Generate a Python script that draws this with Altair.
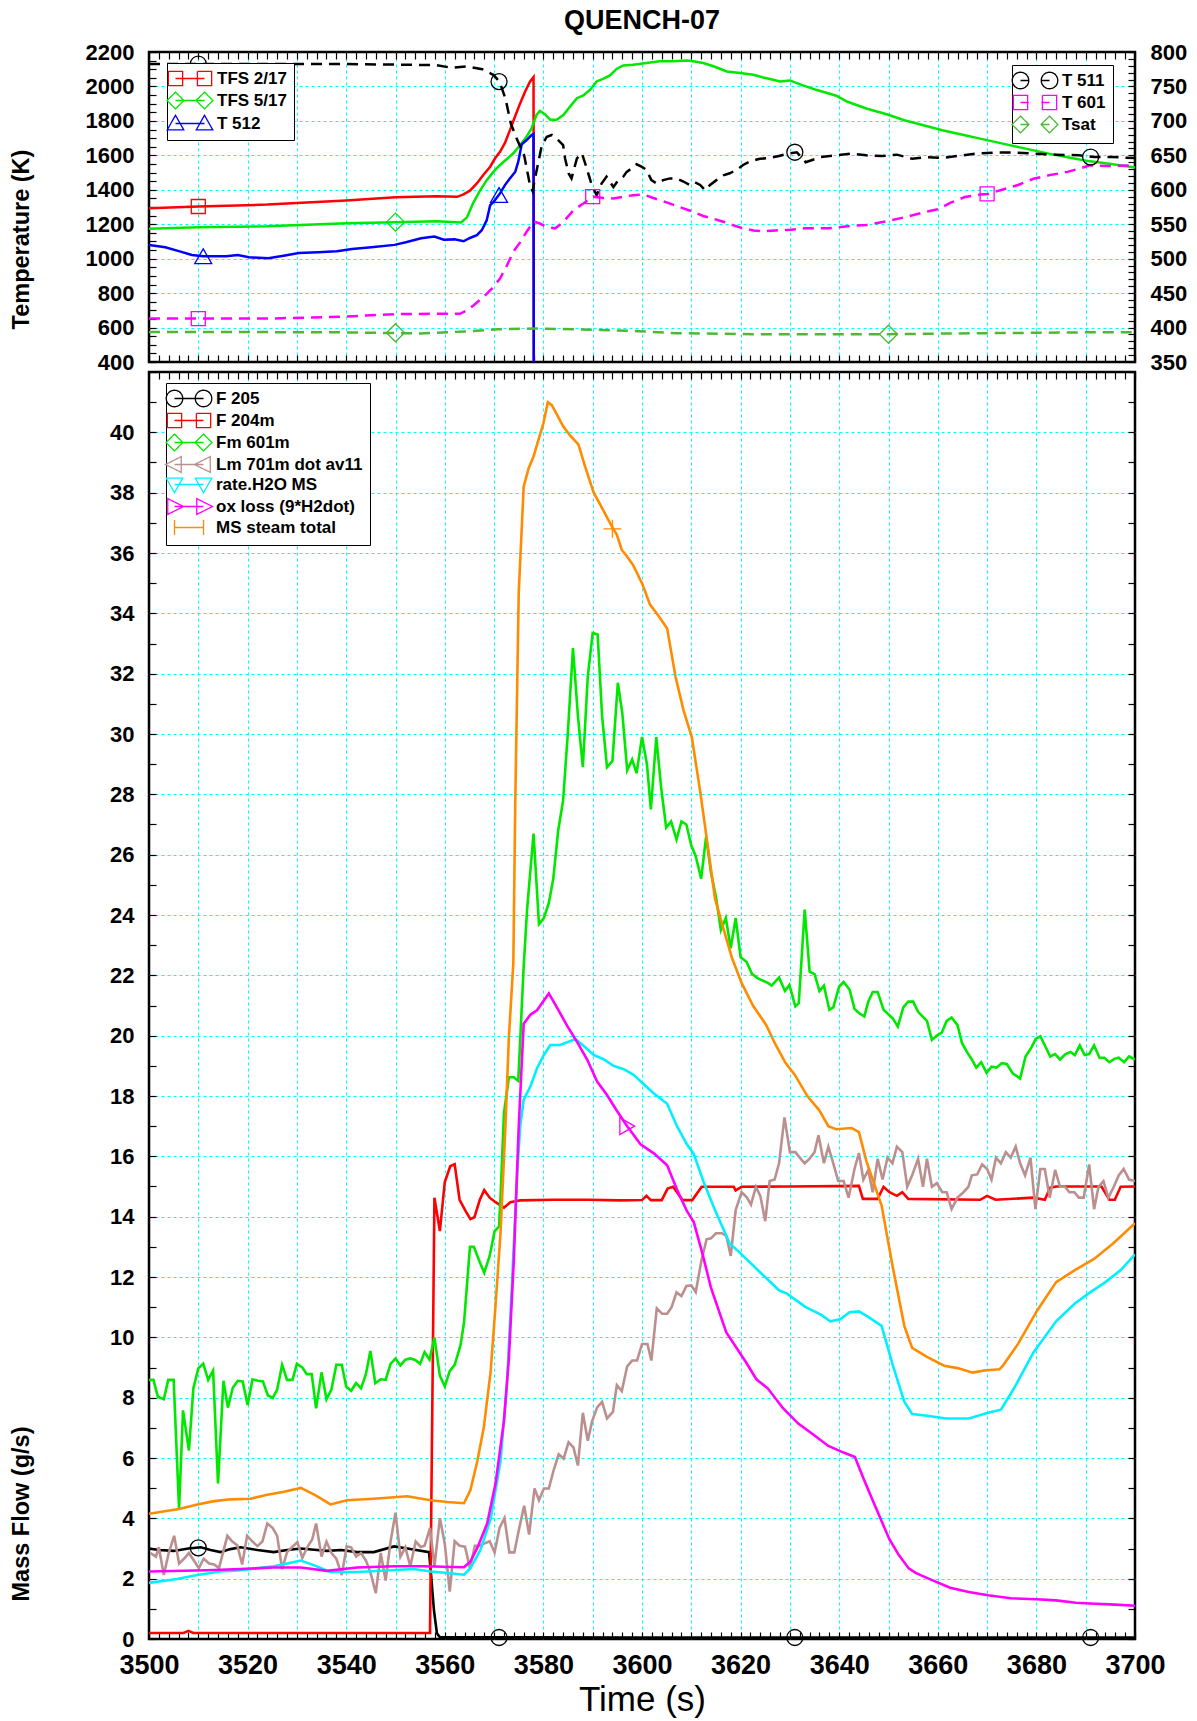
import altair as alt
import pandas as pd

FONT = "Liberation Sans, Arial, Helvetica, sans-serif"
GRID = "#00ffff"
TL = 7  # inward tick length

# ---------------- top panel (temperatures) ----------------
TL_NAMES = ["TFS 2/17", "TFS 5/17", "T 512"]
TL_COLORS = ["#ff0000", "#00e800", "#0000ff"]
TR_NAMES = ["T 511", "T 601", "Tsat"]
TR_COLORS = ["#000000", "#ff00ff", "#4db833"]

tfs217 = [(3500, 1293), (3510, 1303), (3524, 1314), (3540, 1338), (3550, 1357), (3558.3, 1363),
          (3562.5, 1359), (3563.8, 1373), (3565.1, 1395), (3566.5, 1437), (3567.8, 1486),
          (3569.2, 1534), (3570.2, 1583), (3571.2, 1620), (3572.2, 1672), (3573.2, 1745),
          (3574.3, 1830), (3575.3, 1903), (3576.3, 1971), (3577.3, 2029), (3578.0, 2054),
          (3578.05, 400)]
tfs517 = [(3500, 1173), (3510, 1182), (3524, 1188), (3540, 1206), (3550, 1212), (3558.3, 1217),
          (3563.3, 1210), (3564.5, 1240), (3565.8, 1326), (3567.2, 1398), (3568.5, 1456),
          (3569.9, 1505), (3571.2, 1544), (3572.6, 1579), (3573.9, 1612), (3575.3, 1660),
          (3576.6, 1709), (3577.6, 1757), (3578.6, 1835), (3579.3, 1858), (3580.3, 1839),
          (3581.4, 1806), (3582.7, 1806), (3584.1, 1835), (3585.4, 1883), (3586.8, 1932),
          (3588.1, 1948), (3589.5, 1981), (3590.8, 2029), (3592.2, 2045), (3593.5, 2064),
          (3594.9, 2103), (3596.2, 2122), (3598.2, 2126), (3600.9, 2136), (3603.6, 2146),
          (3606.4, 2146), (3609.1, 2150), (3610.4, 2146), (3612.4, 2136), (3614.5, 2117),
          (3617.2, 2087), (3619.9, 2078), (3622.6, 2068), (3624.6, 2052), (3626.6, 2039),
          (3628, 2029), (3630, 2035), (3632.5, 2008), (3635.5, 1979), (3639.4, 1946),
          (3641.7, 1911), (3645.5, 1872), (3649.8, 1837), (3653.2, 1804), (3657.1, 1775),
          (3660.9, 1746), (3665.5, 1717), (3668.6, 1697), (3673.2, 1668), (3677.8, 1639),
          (3682.5, 1610), (3687.1, 1584), (3690.9, 1565), (3694.8, 1551), (3700, 1530)]
t512 = [(3500, 1080), (3503.3, 1066), (3506.4, 1041), (3508.7, 1021), (3511, 1014), (3513.3, 1014),
        (3515.7, 1014), (3518, 1021), (3520.3, 1008), (3524.2, 1002), (3527.3, 1017), (3530.4, 1033),
        (3534.3, 1037), (3538.1, 1043), (3541.2, 1056), (3545.1, 1066), (3549.8, 1080),
        (3552.1, 1095), (3555.2, 1118), (3557.9, 1128), (3559.8, 1110), (3562, 1112),
        (3563.8, 1101), (3565.1, 1120), (3566.5, 1136), (3567.5, 1165), (3568.5, 1223),
        (3569.2, 1311), (3569.9, 1330), (3571.2, 1379), (3572.2, 1427), (3573.2, 1466),
        (3574.3, 1505), (3574.9, 1563), (3575.6, 1664), (3576.6, 1689), (3577.6, 1718),
        (3578.0, 1724), (3578.05, 400)]

# right-axis series (K on the right scale)
t511 = [(3500, 782.5), (3520, 782.5), (3540, 782.5), (3558.3, 781), (3561.4, 777), (3564.5, 779),
        (3567.6, 775), (3569.9, 766.5), (3571.1, 757), (3572.3, 732.5), (3573.4, 696),
        (3574.6, 674), (3576.1, 650), (3577.3, 606), (3577.8, 598), (3578.3, 616.5), (3579.0, 641),
        (3579.7, 665), (3580.7, 677), (3581.7, 679.5), (3583.0, 672), (3584.0, 665),
        (3584.4, 645.5), (3585.1, 624), (3585.7, 616.5), (3586.8, 645.5), (3587.8, 653),
        (3588.8, 631), (3589.8, 607), (3590.8, 592), (3591.8, 609), (3592.8, 619), (3594.2, 604),
        (3595.2, 614), (3596.2, 619), (3596.9, 626), (3597.9, 631), (3598.9, 637),
        (3599.9, 633.5), (3600.9, 629), (3601.9, 614), (3603.0, 609), (3604.3, 614),
        (3605.7, 616.5), (3607.0, 616.5), (3608.4, 612), (3609.7, 607), (3610.7, 611),
        (3611.8, 607), (3612.8, 599.5), (3613.8, 607), (3615.1, 614), (3616.5, 621),
        (3617.8, 624), (3619.2, 629), (3620.5, 636), (3621.9, 641), (3623.9, 645),
        (3625.9, 646), (3628.0, 649.5), (3630.0, 653), (3631.4, 654.5), (3633.2, 640),
        (3636.3, 647.5), (3639.4, 650), (3642.5, 652.5), (3645.5, 650), (3648.6, 649),
        (3651.7, 651), (3654.8, 645), (3657.8, 647.5), (3660.9, 646), (3664.0, 649),
        (3667.8, 652.5), (3671.7, 654), (3675.5, 654), (3679.4, 652.5), (3684.0, 651),
        (3688.6, 650), (3691.7, 647.5), (3695.5, 647.5), (3700, 646)]
t601 = [(3500, 413), (3510, 413), (3524, 413), (3540, 416), (3550, 419.5), (3558.3, 420),
        (3563.1, 420), (3564.5, 425), (3565.8, 432), (3567.8, 444), (3569.5, 456), (3571.2, 471),
        (3572.6, 490), (3573.9, 510), (3575.3, 524), (3576.6, 539), (3578, 554), (3579.3, 551),
        (3580.7, 546), (3582.4, 544), (3584.1, 553.5), (3586.1, 570.5), (3588.1, 580),
        (3590.1, 590), (3592.2, 588), (3594.2, 587.5), (3596.2, 590), (3598.2, 592),
        (3600.3, 593), (3602.3, 588), (3604.3, 583.5), (3606.4, 578), (3608.4, 573),
        (3610.4, 568), (3612.4, 562), (3614.5, 558), (3616.5, 553.5), (3618.5, 548.5),
        (3620.5, 544), (3622.6, 541), (3624.6, 540), (3627.1, 541), (3630.2, 542),
        (3633.2, 544), (3637.8, 544), (3641.7, 547), (3645.5, 549), (3649.4, 554),
        (3653.2, 560), (3657.8, 568.5), (3660.2, 572), (3662.5, 581), (3665.5, 589.5),
        (3668.6, 593), (3670.2, 594), (3673.2, 600.5), (3676.3, 607), (3679.4, 616),
        (3682.5, 621), (3686.3, 626), (3688.6, 630.5), (3690.9, 635.5), (3694.8, 634.5),
        (3700, 635.5)]
tsat = [(3500, 393.7), (3520, 393.5), (3540, 393), (3555, 391.5), (3564.5, 394.5), (3570.7, 397.5),
        (3578.4, 398.6), (3591.7, 396.6), (3599.4, 394.7), (3607.1, 391.8), (3622.5, 390.3),
        (3637.8, 390.3), (3649.8, 390.3), (3660.9, 391.3), (3676.3, 392.2), (3691.7, 393.2),
        (3700, 393.2)]

# markers on the curves (t, value)
mk_tfs217 = [(3510, 1303)]
mk_tfs517 = [(3550, 1212)]
mk_t512 = [(3511, 1014), (3571, 1370)]
mk_t511 = [(3510, 782.5), (3571, 757), (3631, 654.5), (3691, 647.5)]
mk_t601 = [(3510, 413), (3590, 590), (3670, 594)]
mk_tsat = [(3550, 392.5), (3650, 390.3)]

# ---------------- bottom panel (mass flows) ----------------
B_NAMES = ["F 205", "F 204m", "Fm 601m", "Lm 701m dot av11", "rate.H2O MS",
           "ox loss (9*H2dot)", "MS steam total"]
B_COLORS = ["#000000", "#ff0000", "#00e800", "#bc8f8f", "#00f0ff", "#ff00ff", "#ff8c00"]

f205 = [(3500, 3.0), (3502, 2.95), (3505, 2.92), (3508, 3.0), (3510.5, 3.04), (3512.5, 2.95),
        (3514.5, 2.88), (3516.5, 2.98), (3518.6, 3.04), (3522, 2.95), (3525.3, 2.88), (3528, 2.95),
        (3530.8, 3.0), (3533.5, 2.96), (3536.1, 2.92), (3539, 2.95), (3542.2, 2.88), (3545.6, 2.88),
        (3549.7, 3.07), (3552.4, 3.0), (3556.8, 2.88), (3557.1, 2.35), (3557.8, 0.95),
        (3558.4, 0.19), (3559, 0.06), (3600, 0.05), (3650, 0.05), (3700, 0.05)]
f204m = [(3500, 0.2), (3507, 0.2), (3508, 0.27), (3509, 0.2), (3557.0, 0.2), (3557.9, 14.63),
         (3559, 13.52), (3560, 15.15), (3561.1, 15.67), (3562, 15.74), (3563, 14.56),
         (3564.2, 14.19), (3565.2, 13.92), (3566, 13.98), (3567.1, 14.56), (3568, 14.88),
         (3569.1, 14.63), (3570.3, 14.48), (3572, 14.3), (3573.3, 14.48), (3575.3, 14.54),
         (3582, 14.56), (3589, 14.56), (3595.6, 14.54), (3600, 14.55), (3600.9, 14.69),
         (3601.8, 14.55), (3604, 14.55), (3605.2, 14.93), (3606.3, 14.99), (3607.1, 14.81),
         (3608.2, 14.55), (3610.2, 14.55), (3612.1, 14.99), (3618.6, 14.99), (3619, 14.87),
         (3620.2, 14.99), (3630, 15.0), (3644, 15.02), (3644.8, 14.59), (3647.8, 14.59),
         (3649, 14.99), (3650.2, 14.81), (3651.7, 14.69), (3652.8, 14.81), (3654, 14.59),
         (3668.6, 14.56), (3670, 14.69), (3671.7, 14.56), (3679.4, 14.63), (3681.7, 14.56),
         (3682.8, 14.96), (3684, 15.0), (3693.2, 15.0), (3694.8, 14.56), (3695.9, 14.56),
         (3697.1, 14.99), (3700, 15.0)]
fm601m = [(3500, 8.59), (3500.9, 8.59), (3501.8, 8.03), (3503, 7.95), (3503.9, 8.59), (3505, 8.59),
          (3506.1, 4.31), (3506.9, 7.58), (3508.1, 6.25), (3509, 8.31), (3510, 8.97), (3511, 9.13),
          (3512, 8.59), (3513, 8.9), (3514, 5.16), (3515.1, 8.56), (3516, 7.67), (3517, 8.33),
          (3518, 8.56), (3519, 8.54), (3520, 7.76), (3521, 8.61), (3522.1, 8.56), (3523.1, 8.54),
          (3524.1, 8.08), (3525.1, 7.99), (3526, 8.27), (3527, 9.09), (3528, 8.59), (3529.1, 8.59),
          (3530, 9.12), (3531.1, 9.0), (3532, 8.78), (3533, 8.78), (3533.9, 7.65), (3535, 8.84),
          (3536, 7.95), (3537, 8.27), (3538, 9.09), (3539.1, 9.09), (3540, 8.37), (3541, 8.23),
          (3542, 8.48), (3543, 8.31), (3544, 8.78), (3544.9, 9.55), (3545.9, 8.48), (3547, 8.61),
          (3548, 8.59), (3549, 9.12), (3550, 9.3), (3551, 9.07), (3552, 9.26), (3553, 9.3),
          (3554, 9.25), (3555, 9.12), (3555.9, 9.51), (3556.9, 9.26), (3557.9, 10.0), (3559, 8.73),
          (3560, 8.37), (3561, 8.88), (3562, 9.09), (3563.2, 9.75), (3563.9, 10.49), (3565.1, 13.0),
          (3565.9, 13.0), (3567.1, 12.49), (3568, 12.14), (3569.1, 12.7), (3570.1, 13.52),
          (3571, 13.67), (3571.3, 14.63), (3572, 17.44), (3573, 18.62), (3574, 18.62),
          (3574.9, 18.5), (3576, 22.3), (3576.7, 24.2), (3578, 26.7), (3579.1, 23.7), (3580.1, 23.9),
          (3581.1, 24.4), (3582, 25.2), (3583, 26.8), (3584, 27.8), (3584.9, 29.9), (3586, 32.85),
          (3587, 30.6), (3588, 28.9), (3589, 31.9), (3590, 33.35), (3591, 33.3), (3591.9, 30.6),
          (3592.9, 28.9), (3594, 29.1), (3595.1, 31.7), (3596, 30.7), (3597, 28.8), (3598, 29.15),
          (3598.9, 28.7), (3600, 29.9), (3601, 29.0), (3601.8, 27.5), (3602.9, 29.9), (3603.9, 28.2),
          (3604.9, 26.9), (3605.9, 27.1), (3607, 26.5), (3608, 27.1), (3609, 27.0), (3610, 26.3),
          (3610.9, 25.95), (3612, 25.2), (3613, 26.6), (3614, 25.4), (3615, 24.6), (3616, 23.5),
          (3617, 23.9), (3618, 22.9), (3619, 23.9), (3620, 22.6), (3621.2, 22.45), (3622.3, 22.05),
          (3623.5, 21.9), (3625.5, 21.75), (3626.3, 21.66), (3627.8, 21.93), (3629, 21.48),
          (3629.9, 21.68), (3631.1, 20.97), (3631.8, 21.08), (3633, 24.18), (3634, 22.12),
          (3635, 22.04), (3636, 21.48), (3636.9, 21.66), (3638, 20.86), (3638.8, 20.94),
          (3640, 21.63), (3640.9, 21.78), (3642.1, 21.53), (3643.1, 20.89), (3644, 20.75),
          (3645.1, 20.64), (3645.9, 21.13), (3646.8, 21.45), (3647.8, 21.45), (3649, 20.86),
          (3650.9, 20.57), (3651.9, 20.3), (3653, 20.94), (3654, 21.13), (3655, 21.13),
          (3656, 20.79), (3657.8, 20.49), (3658.8, 19.86), (3659.8, 20.0), (3660.8, 20.1),
          (3661.8, 20.49), (3662.8, 20.6), (3664, 20.35), (3664.9, 19.76), (3665.9, 19.46),
          (3666.9, 19.21), (3667.8, 18.94), (3668.8, 19.12), (3669.9, 18.77), (3670.9, 18.97),
          (3671.9, 18.94), (3673, 19.09), (3674, 19.06), (3675.2, 18.75), (3676.7, 18.58),
          (3677.8, 19.31), (3679, 19.61), (3679.9, 19.9), (3680.8, 19.98), (3681.8, 19.65),
          (3682.8, 19.31), (3683.8, 19.39), (3684.8, 19.21), (3685.9, 19.39), (3686.9, 19.46),
          (3687.8, 19.36), (3688.8, 19.68), (3689.8, 19.36), (3690.7, 19.39), (3691.7, 19.68),
          (3692.8, 19.27), (3693.8, 19.27), (3694.8, 19.12), (3695.9, 19.24), (3696.7, 19.27),
          (3697.8, 19.12), (3698.8, 19.31), (3700, 19.21)]
lm701m = [(3500.3, 2.85), (3501.4, 2.73), (3502, 3.04), (3503, 2.12), (3504, 2.85), (3505.1, 3.42),
          (3506.1, 2.5), (3507.1, 2.66), (3508.1, 2.85), (3509.1, 2.6), (3510.1, 2.35),
          (3511.1, 2.66), (3512.2, 2.5), (3513.2, 2.47), (3514.2, 2.35), (3515.9, 3.42),
          (3516.9, 3.23), (3517.9, 3.11), (3518.9, 2.47), (3519.9, 3.42), (3521, 3.23),
          (3522, 3.08), (3523, 3.23), (3524, 3.83), (3525.1, 3.68), (3526, 3.42), (3527, 2.32),
          (3528, 2.88), (3529, 3.04), (3530.1, 3.21), (3531.1, 2.69), (3532.1, 3.04), (3533.1, 3.3),
          (3533.9, 3.83), (3535, 2.73), (3536, 3.23), (3537, 2.85), (3538, 2.66), (3539.1, 2.12),
          (3540.1, 3.07), (3541, 3.04), (3542, 2.73), (3543, 2.85), (3544, 2.6), (3544.9, 2.22),
          (3546, 1.52), (3547, 2.85), (3548, 1.94), (3549, 3.23), (3550, 4.19), (3551, 2.73),
          (3552, 3.04), (3553, 2.41), (3554.1, 3.23), (3555.1, 3.05), (3555.9, 3.09), (3557, 3.68),
          (3557.9, 2.4), (3559, 4.01), (3560, 3.15), (3561, 1.57), (3562, 3.24), (3563, 3.09),
          (3564.1, 3.06), (3565.1, 2.35), (3566.1, 3.09), (3567.1, 3.09), (3568.1, 3.17),
          (3569.1, 3.24), (3570.1, 2.87), (3571.1, 3.68), (3572.1, 4.01), (3573.1, 2.87),
          (3574.1, 2.87), (3575.1, 3.68), (3576.1, 4.42), (3577.1, 3.46), (3578.2, 4.99),
          (3579.1, 4.6), (3580.1, 4.99), (3581.1, 4.99), (3582.1, 5.61), (3583.1, 6.12),
          (3584.1, 5.98), (3585.1, 6.52), (3586.1, 6.35), (3587, 5.75), (3588, 7.5), (3589, 6.57),
          (3589.9, 7.23), (3590.9, 7.68), (3591.9, 7.86), (3592.9, 7.31), (3594.1, 7.53),
          (3594.9, 8.42), (3595.9, 8.22), (3597, 9.04), (3598, 9.23), (3599, 9.23), (3600, 9.78),
          (3601.1, 9.78), (3601.9, 9.23), (3603, 10.96), (3604.1, 10.78), (3605.1, 10.78),
          (3606, 11.0), (3607, 11.49), (3608, 11.37), (3609, 11.7), (3610, 11.72), (3610.9, 11.5),
          (3612.1, 12.58), (3613.1, 13.25), (3614, 13.28), (3615, 13.45), (3616.2, 13.45),
          (3617.1, 13.36), (3618, 12.7), (3619, 14.22), (3620.2, 14.81), (3621.3, 14.63),
          (3622.1, 14.4), (3623.1, 14.99), (3624, 14.69), (3625, 13.85), (3625.9, 15.18),
          (3626.9, 15.23), (3627.8, 15.77), (3628.9, 17.29), (3630, 16.14), (3631.1, 16.14),
          (3632, 15.96), (3633, 15.77), (3634, 15.92), (3635, 16.14), (3635.8, 16.7),
          (3636.9, 15.77), (3637.8, 16.32), (3638.8, 15.77), (3639.8, 15.18), (3640.9, 15.18),
          (3641.9, 14.63), (3643.1, 15.58), (3644, 16.11), (3644.9, 15.23), (3645.9, 15.55),
          (3646.8, 14.81), (3647.8, 15.92), (3648.8, 15.23), (3649.8, 15.96), (3650.8, 15.77),
          (3651.7, 16.32), (3652.8, 16.14), (3653.8, 14.99), (3654.8, 15.37), (3656, 15.92),
          (3657, 14.99), (3657.8, 15.92), (3658.8, 14.99), (3659.8, 15.11), (3660.9, 14.81),
          (3661.8, 14.81), (3662.8, 14.25), (3664, 14.63), (3665.2, 14.81), (3666.2, 14.99),
          (3666.9, 15.37), (3668, 15.4), (3669, 15.73), (3670, 15.58), (3670.9, 15.23),
          (3671.8, 15.96), (3672.8, 15.77), (3673.8, 16.14), (3674.8, 15.96), (3675.8, 16.32),
          (3676.7, 15.77), (3677.7, 15.37), (3678.8, 15.96), (3679.8, 14.25), (3680.8, 15.58),
          (3681.7, 15.58), (3682.7, 14.63), (3683.8, 15.55), (3684.8, 14.99), (3685.8, 14.99),
          (3686.7, 14.81), (3687.7, 14.81), (3688.6, 14.63), (3689.6, 14.63), (3690.7, 15.73),
          (3691.7, 14.25), (3692.6, 14.99), (3693.6, 15.18), (3694.6, 14.63), (3695.7, 14.99),
          (3696.7, 15.37), (3697.7, 15.58), (3698.8, 15.23), (3700, 15.18)]
rate_h2o = [(3500, 1.86), (3505.7, 1.99), (3509.8, 2.12), (3514.5, 2.24), (3518.6, 2.28),
            (3525.3, 2.41), (3528, 2.5), (3530.8, 2.6), (3533.4, 2.45), (3536.8, 2.22),
            (3542.2, 2.22), (3549, 2.28), (3553.7, 2.32), (3557.1, 2.24), (3561.1, 2.18),
            (3563.9, 2.13), (3565.2, 2.35), (3567.2, 2.94), (3569.3, 3.98), (3571.3, 5.9),
            (3572.6, 8.42), (3573.6, 11.67), (3574.7, 15.5), (3575.3, 17.0), (3576, 17.88),
            (3577.4, 18.33), (3578.7, 18.92), (3580.1, 19.36), (3581.4, 19.69), (3583.4, 19.69),
            (3584.8, 19.78), (3586.5, 19.88), (3588.2, 19.66), (3590.2, 19.36), (3592.2, 19.22),
            (3594.2, 19.0), (3596.3, 18.89), (3598.3, 18.7), (3600.3, 18.4), (3602.3, 18.1),
            (3605.1, 17.74), (3607.1, 17.0), (3609.1, 16.4), (3610.5, 16.08), (3612.5, 15.15),
            (3614.8, 14.22), (3617.8, 13.11), (3620.2, 12.75), (3624, 12.15), (3627.8, 11.56),
            (3629.4, 11.45), (3633.2, 11.0), (3636.3, 10.75), (3638.2, 10.53), (3640.2, 10.6),
            (3642.1, 10.83), (3644, 10.86), (3645.9, 10.68), (3648.6, 10.38), (3650.9, 9.06),
            (3653.2, 7.87), (3654.8, 7.46), (3657.8, 7.4), (3661.7, 7.31), (3666.3, 7.31),
            (3670.2, 7.5), (3672.8, 7.6), (3675.5, 8.32), (3679.4, 9.5), (3684, 10.53),
            (3687.8, 11.12), (3690.9, 11.49), (3694, 11.83), (3697.1, 12.23), (3700, 12.75)]
ox_loss = [(3500, 2.24), (3511.8, 2.28), (3518.6, 2.32), (3525.3, 2.37), (3530.8, 2.37),
           (3536.1, 2.26), (3542.2, 2.37), (3549.7, 2.41), (3555.7, 2.41), (3563.9, 2.38),
           (3565.2, 2.57), (3566.6, 3.02), (3568.6, 3.83), (3570.3, 5.16), (3572, 7.23),
           (3573, 9.3), (3574, 12.56), (3575, 17.0), (3576, 20.4), (3577.4, 20.7), (3578.7, 20.84),
           (3581.1, 21.4), (3582.8, 20.92), (3584.8, 20.33), (3586.8, 19.8), (3588.9, 19.2),
           (3590.9, 18.48), (3592.9, 18.03), (3594.9, 17.51), (3597, 17.0), (3599.7, 16.4),
           (3602.4, 16.1), (3605.1, 15.7), (3607.1, 14.9), (3609.1, 14.19), (3610.5, 13.82),
           (3612.3, 12.75), (3614, 11.64), (3617.1, 10.16), (3621, 9.2), (3623.2, 8.61),
           (3625.5, 8.31), (3628.6, 7.65), (3631.7, 7.14), (3634.8, 6.77), (3637.8, 6.4),
           (3640.9, 6.18), (3643.2, 6.03), (3644.8, 5.37), (3646.7, 4.63), (3650.2, 3.3),
           (3652.1, 2.78), (3654.1, 2.34), (3655.5, 2.19), (3658.6, 1.97), (3662.5, 1.7),
           (3666.3, 1.56), (3670.2, 1.45), (3674.8, 1.35), (3680, 1.32), (3684, 1.28),
           (3688, 1.2), (3692, 1.17), (3696, 1.14), (3700, 1.1)]
ms_steam = [(3500, 4.15), (3506.1, 4.31), (3509.8, 4.46), (3513.2, 4.57), (3516.6, 4.63),
            (3520.6, 4.65), (3524, 4.78), (3527.4, 4.88), (3530.8, 5.01), (3533.8, 4.76),
            (3536.8, 4.46), (3540.2, 4.6), (3545.6, 4.65), (3552.4, 4.73), (3557.1, 4.6),
            (3560.5, 4.54), (3563.9, 4.5), (3565.2, 4.94), (3566.6, 5.9), (3567.9, 7.0),
            (3569.3, 8.86), (3570.3, 11.08), (3571.3, 13.45), (3572.3, 17.0), (3573, 19.96),
            (3573.9, 22.4), (3574.3, 27.8), (3575, 34.7), (3576, 38.2), (3577, 38.8), (3578, 39.2),
            (3579, 39.75), (3580, 40.3), (3580.9, 41.0), (3581.7, 40.9), (3582.7, 40.6),
            (3584, 40.2), (3585.4, 39.9), (3587.1, 39.6), (3588.4, 38.9), (3590.2, 38.0),
            (3591.2, 37.7), (3593.5, 37.0), (3594.9, 36.6), (3595.9, 36.1), (3596.9, 35.9),
            (3598.2, 35.6), (3600, 35.0), (3601.6, 34.3), (3603.4, 33.9), (3605.1, 33.5),
            (3606.8, 31.9), (3608.4, 30.8), (3610.1, 29.9), (3611.8, 28.1), (3613.5, 26.1),
            (3614.8, 24.55), (3616.3, 23.67), (3618.2, 22.6), (3620.2, 21.75), (3622.5, 21.0),
            (3625.2, 20.35), (3627.1, 19.7), (3629.1, 19.1), (3631, 18.7), (3633.6, 17.98),
            (3635.9, 17.54), (3637.8, 17.0), (3639.4, 16.9), (3642.5, 16.94), (3644, 16.8),
            (3645.5, 15.85), (3648.6, 14.37), (3650.9, 12.3), (3653.2, 10.38), (3654.8, 9.65),
            (3657.8, 9.35), (3661.3, 9.06), (3664, 8.98), (3667.1, 8.83), (3669.4, 8.9),
            (3672.5, 8.94), (3673.2, 9.06), (3676.3, 9.79), (3680.2, 10.9), (3684, 11.83),
            (3687.8, 12.23), (3691.7, 12.6), (3695.5, 13.1), (3700, 13.78)]

mk_f205 = [(3510, 3.02), (3571, 0.05), (3631, 0.05), (3691, 0.05)]
mk_ms = [(3594, 36.8)]
mk_ox = [(3597, 17.0)]


def long_df(names, series):
    rows = []
    for n, pts in zip(names, series):
        for t, v in pts:
            rows.append({"t": t, "v": v, "s": n})
    return pd.DataFrame(rows)


def pts_df(pts):
    return pd.DataFrame([{"t": t, "v": v} for t, v in pts])


df_tl = long_df(TL_NAMES, [tfs217, tfs517, t512])
df_tr = long_df(TR_NAMES, [t511, t601, tsat])
df_b = long_df(B_NAMES, [f205, f204m, fm601m, lm701m, rate_h2o, ox_loss, ms_steam])

# ---------------- legend symbols (line with two markers) ----------------
D = 3.87  # distance between the two legend markers (symbol units)


def circ(cx, r=1.1):
    return f"M{cx - r},0A{r},{r} 0 1,0 {cx + r},0A{r},{r} 0 1,0 {cx - r},0Z"


def sq(cx, s=0.95):
    return f"M{cx - s},{-s}L{cx + s},{-s}L{cx + s},{s}L{cx - s},{s}Z"


def dia(cx, d=1.12):
    return f"M{cx},{-d}L{cx + d},0L{cx},{d}L{cx - d},0Z"


def tri_up(cx):
    return f"M{cx},-1.1L{cx + 1.1},0.85L{cx - 1.1},0.85Z"


def tri_down(cx):
    return f"M{cx},1.1L{cx + 1.1},-0.85L{cx - 1.1},-0.85Z"


def tri_left(cx):
    return f"M{cx - 1.2},0L{cx + 0.9},-1.05L{cx + 0.9},1.05Z"


def tri_right(cx):
    return f"M{cx + 1.2},0L{cx - 0.9},-1.05L{cx - 0.9},1.05Z"


def plus(cx):
    return f"M{cx},-1L{cx},1"


def pair(fn, dashed=False):
    line = f"M0,0L1.1,0M{D - 1.1},0L{D},0" if dashed else f"M0,0L{D},0"
    return fn(0) + fn(D) + line


def sym_expr(names, paths):
    expr = "'circle'"
    for n, p in reversed(list(zip(names, paths))):
        expr = f"datum.value === '{n}' ? '{p}' : ({expr})"
    return {"expr": expr}


def legend(names, paths, x, y):
    return alt.Legend(
        orient="none", legendX=x, legendY=y, title=None,
        symbolType=sym_expr(names, paths), symbolSize=225, symbolStrokeWidth=1.3,
        symbolFillColor="transparent", symbolDash=[1, 0], symbolOffset=-7,
        labelFont=FONT, labelFontSize=17, labelFontWeight="bold", labelColor="black",
        labelOffset=33, rowPadding=0, padding=7, strokeColor="black", fillColor="white",
        zindex=2,
    )


# ---------------- axes ----------------
def cond(step, lo, hi):
    return {"condition": {"test": f"datum.value % {step} === 0 && datum.value > {lo} && datum.value < {hi}",
                          "value": 1}, "value": 0}


def x_axis(orient, labels=False, grid=False, title=None):
    kw = dict(orient=orient, offset=-TL, values=list(range(3500, 3701, 2)), tickSize=TL,
              tickColor="black", tickWidth=1.2, domain=False, labelOverlap=False, labelFlush=False,
              format="d", title=title)
    if grid:
        kw.update(grid=True, gridColor=GRID, gridDash=[3, 3], gridWidth=1, gridOpacity=cond(10, 3500, 3700))
    else:
        kw.update(grid=False)
    if labels:
        kw.update(labels=True, labelExpr="datum.value % 20 === 0 ? datum.label : ''", labelFont=FONT,
                  labelFontSize=27, labelFontWeight="bold", labelColor="black", labelPadding=13)
    else:
        kw.update(labels=False)
    if title:
        kw.update(titleFont=FONT, titleFontSize=35, titleFontWeight="normal", titleColor="black",
                  titleX=493, titleY=78, titleBaseline="alphabetic", titleAlign="center")
    return alt.Axis(**kw)


def y_axis(orient, vals, lab_test=None, lab_expr=None, grid=None, title=None, title_y=None,
           title_align="center"):
    kw = dict(orient=orient, offset=-TL, values=vals, tickSize=TL, tickColor="black", tickWidth=1.2,
              domain=False, labelOverlap=False, labelFlush=False, format="d", title=title)
    if grid:
        kw.update(grid=True, gridColor=GRID, gridDash=[3, 3], gridWidth=1, gridOpacity=grid)
    else:
        kw.update(grid=False)
    if lab_test:
        kw.update(labels=True, labelExpr=f"{lab_test} ? {lab_expr or 'datum.label'} : ''", labelFont=FONT,
                  labelFontSize=22, labelFontWeight="bold", labelColor="black", labelPadding=15)
    else:
        kw.update(labels=False)
    if title:
        kw.update(titleFont=FONT, titleFontSize=23.5, titleFontWeight="bold", titleColor="black",
                  titleAngle=270, titleX=-127.5, titleY=title_y, titleBaseline="alphabetic",
                  titleAlign=title_align)
    return alt.Axis(**kw)


W = 986
H_TOP = 310
H_BOT = 1267

xs = alt.Scale(domain=[3500, 3700], nice=False, zero=False)
ysL = alt.Scale(domain=[400, 2200], nice=False, zero=False)
ysR = alt.Scale(domain=[350, 800], nice=False, zero=False)
ysB = alt.Scale(domain=[0, 42], nice=False, zero=False)


def markers(pts, shape, color, size, yscale, xaxis=None, yaxis=None):
    return alt.Chart(pts_df(pts)).mark_point(shape=shape, filled=False, color=color, size=size,
                                             strokeWidth=1.3, opacity=1).encode(
        x=alt.X("t:Q", scale=xs, axis=xaxis),
        y=alt.Y("v:Q", scale=yscale, axis=yaxis),
    )


# ---- top panel ----
leg_tl = legend(TL_NAMES, [pair(sq), pair(dia), pair(tri_up)], 18, 11)
leg_tr = legend(TR_NAMES, [pair(circ, True), pair(sq, True), pair(dia, True)], 863, 13)

top_left = alt.Chart(df_tl).mark_line(strokeWidth=2.5, clip=True).encode(
    x=alt.X("t:Q", scale=xs, axis=x_axis("bottom", grid=True)),
    y=alt.Y("v:Q", scale=ysL, axis=y_axis("left", list(range(400, 2201, 50)), "datum.value % 200 === 0",
                                           grid=cond(200, 400, 2200), title="Temperature (K)", title_y=187)),
    color=alt.Color("s:N", scale=alt.Scale(domain=TL_NAMES, range=TL_COLORS), legend=leg_tl),
)
top_right = alt.Chart(df_tr).mark_line(strokeWidth=2.5, strokeDash=[11, 7], clip=True).encode(
    x=alt.X("t:Q", scale=xs, axis=x_axis("top")),
    y=alt.Y("v:Q", scale=ysR, axis=y_axis("right", list(range(350, 801, 10)), "datum.value % 50 === 0")),
    stroke=alt.Stroke("s:N", scale=alt.Scale(domain=TR_NAMES, range=TR_COLORS), legend=leg_tr),
)
top = alt.layer(
    top_left, top_right,
    markers(mk_tfs217, "square", TL_COLORS[0], 196, ysL),
    markers(mk_tfs517, "diamond", TL_COLORS[1], 324, ysL),
    markers(mk_t512, "triangle-up", TL_COLORS[2], 289, ysL),
    markers(mk_t511, "circle", TR_COLORS[0], 256, ysR),
    markers(mk_t601, "square", TR_COLORS[1], 196, ysR),
    markers(mk_tsat, "diamond", TR_COLORS[2], 324, ysR),
).resolve_scale(y="independent").resolve_axis(x="independent", y="independent").properties(
    width=W, height=H_TOP)

# ---- bottom panel ----
leg_b = legend(B_NAMES, [pair(circ), pair(sq), pair(dia), pair(tri_left), pair(tri_down),
                         pair(tri_right), pair(plus)], 17, 11)
bottom_lines = alt.Chart(df_b).mark_line(strokeWidth=2.6, clip=True).encode(
    x=alt.X("t:Q", scale=xs, axis=x_axis("bottom", labels=True, grid=True, title="Time (s)")),
    y=alt.Y("v:Q", scale=ysB, axis=y_axis("left", list(range(0, 43)), "datum.value % 2 === 0 && datum.value <= 40",
                                           grid=cond(2, 0, 42), title="Mass Flow (g/s)", title_y=1229,
                                           title_align="left")),
    color=alt.Color("s:N", scale=alt.Scale(domain=B_NAMES, range=B_COLORS), legend=leg_b),
)
bottom = alt.layer(
    bottom_lines,
    markers(mk_f205, "circle", B_COLORS[0], 256, ysB, xaxis=x_axis("top"),
            yaxis=y_axis("right", list(range(0, 43)))),
    markers(mk_ms, "M-1,0L1,0M0,-1L0,1", B_COLORS[6], 324, ysB),
    markers(mk_ox, "triangle-right", B_COLORS[5], 289, ysB),
).resolve_axis(x="independent", y="independent").properties(width=W, height=H_BOT)

chart = alt.vconcat(top, bottom, spacing=10, bounds="flush").resolve_scale(
    color="independent", stroke="independent"
).properties(
    title=alt.TitleParams("QUENCH-07", font=FONT, fontSize=27, fontWeight="bold", color="black",
                          anchor="middle", frame="group", offset=5),
    padding={"left": 8, "top": 6, "right": 5, "bottom": 5},
    background="white",
).configure_view(stroke="black", strokeWidth=2.5)

chart.save("out.html", embed_options={"renderer": "svg", "actions": False})
